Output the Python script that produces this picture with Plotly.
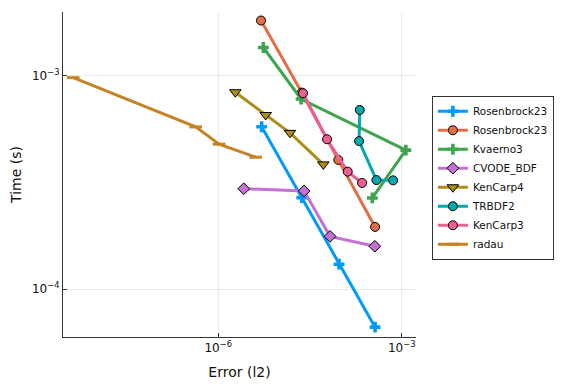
import plotly.graph_objects as go

names = ["Rosenbrock23", "Rosenbrock23", "Kvaerno3", "CVODE_BDF", "KenCarp4", "TRBDF2", "KenCarp3", "radau"]
colors = ["#009AFA", "#E36F47", "#3EA44E", "#C371D2", "#AC8E18", "#00A9AD", "#ED5E93", "#C68225"]
symbols = ["cross", "circle", "cross", "diamond", "triangle-down", "circle", "circle", "line-ew"]

err_rosenbrock23_a = [5.12e-6, 2.32e-5, 9.44e-5, 3.67e-4]
time_rosenbrock23_a = [5.78e-4, 2.69e-4, 1.31e-4, 6.64e-5]
err_rosenbrock23_b = [5.0e-6, 2.32e-5, 9.2e-5, 3.67e-4]
time_rosenbrock23_b = [1.82e-3, 8.36e-4, 4.04e-4, 1.96e-4]
err_kvaerno3 = [5.45e-6, 2.26e-5, 1.17e-3, 3.31e-4]
time_kvaerno3 = [1.36e-3, 7.80e-4, 4.49e-4, 2.68e-4]
err_cvode = [2.61e-6, 2.53e-5, 6.73e-5, 3.63e-4]
time_cvode = [2.96e-4, 2.89e-4, 1.77e-4, 1.59e-4]
err_kencarp4 = [1.90e-6, 5.97e-6, 1.49e-5, 5.23e-5]
time_kencarp4 = [8.39e-4, 6.56e-4, 5.41e-4, 3.85e-4]
err_trbdf2 = [2.06e-4, 2.01e-4, 3.86e-4, 7.23e-4]
time_trbdf2 = [6.93e-4, 4.95e-4, 3.25e-4, 3.24e-4]
err_kencarp3 = [2.43e-5, 6.01e-5, 1.31e-4, 2.25e-4]
time_kencarp3 = [8.30e-4, 5.05e-4, 3.56e-4, 3.15e-4]
err_radau = [4.24e-9, 4.27e-7, 1.03e-6, 4.09e-6]
time_radau = [9.82e-4, 5.77e-4, 4.79e-4, 4.16e-4]

xs = [err_rosenbrock23_a, err_rosenbrock23_b, err_kvaerno3, err_cvode, err_kencarp4, err_trbdf2, err_kencarp3, err_radau]
ys = [time_rosenbrock23_a, time_rosenbrock23_b, time_kvaerno3, time_cvode, time_kencarp4, time_trbdf2, time_kencarp3, time_radau]

x_tickvals = [1e-6, 1e-3]
x_ticktext = ["10<sup>−6</sup>", "10<sup>−3</sup>"]
y_tickvals = [1e-4, 1e-3]
y_ticktext = ["10<sup>−4</sup>", "10<sup>−3</sup>"]

FONT = "DejaVu Sans"

fig = go.Figure()
for name, c, s, x, y in zip(names, colors, symbols, xs, ys):
    if s == "line-ew":
        marker = dict(symbol=s, size=9, color=c, line=dict(color=c, width=3))
    elif s == "cross":
        marker = dict(symbol=s, size=9, color=c, line=dict(width=0))
    elif s == "triangle-down":
        marker = dict(symbol=s, size=10, color=c, line=dict(color="black", width=1))
    else:
        marker = dict(symbol=s, size=9, color=c, line=dict(color="black", width=1))
    fig.add_trace(go.Scatter(x=x, y=y, mode="lines+markers", name=name,
                             line=dict(color=c, width=3), marker=marker))

axis_common = dict(type="log", showgrid=True, gridcolor="rgba(0,0,0,0.08)", gridwidth=1,
                   zeroline=False, showline=True, linecolor="#333", linewidth=1,
                   ticks="inside", ticklen=4, tickcolor="#333", automargin=False,
                   tickfont=dict(size=12, color="#111", family=FONT), mirror=False)
fig.update_xaxes(**axis_common, range=[-8.54, -2.766], tickvals=x_tickvals, ticktext=x_ticktext,
                 title=dict(text="Error (l2)", font=dict(size=14, color="#111", family=FONT), standoff=12))
fig.update_yaxes(**axis_common, range=[-4.224, -2.70], tickvals=y_tickvals, ticktext=y_ticktext,
                 title=dict(text="Time (s)", font=dict(size=14, color="#111", family=FONT), standoff=13))

# page body has an 8px default margin: figure is 8px smaller, left/top margins shifted
fig.update_layout(
    width=568, height=376,
    margin=dict(l=55, r=160, t=4, b=47, autoexpand=False),
    plot_bgcolor="white", paper_bgcolor="white",
    font=dict(family=FONT, color="#111"),
    legend=dict(x=1.045, y=0.49, xanchor="left", yanchor="middle",
                bordercolor="#333", borderwidth=1, bgcolor="white",
                font=dict(size=10.5, family=FONT, color="#111"),
                tracegroupgap=0, itemwidth=30),
)
fig.write_html("out.html")
